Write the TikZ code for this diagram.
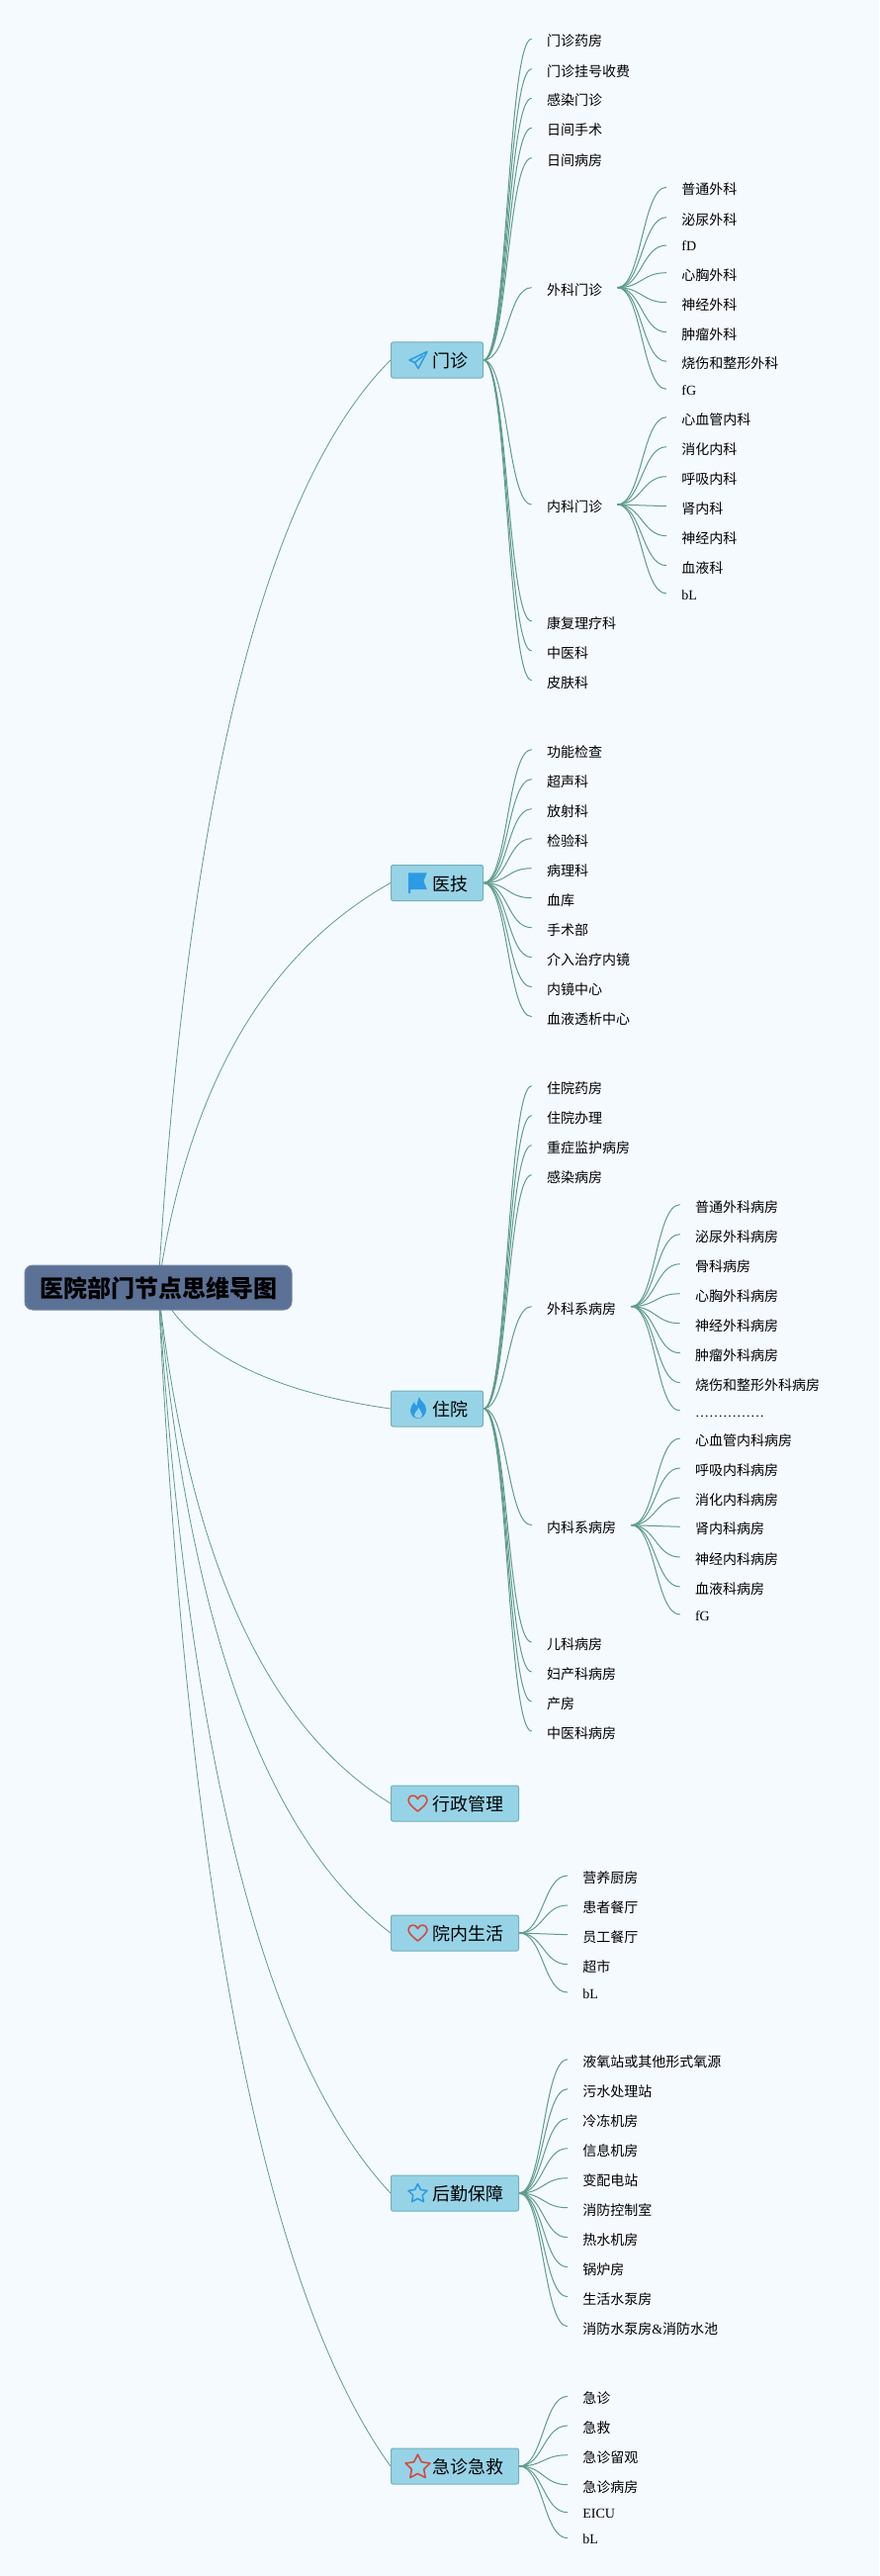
\documentclass[tikz,border=0pt]{standalone}
\usepackage{fontspec}
\setmainfont{Liberation Serif}
\newfontfamily\cjk{Noto Sans CJK SC}
\usetikzlibrary{backgrounds}
\definecolor{pagebg}{HTML}{F5FAFF}
\definecolor{boxfill}{HTML}{97D3E7}
\definecolor{boxline}{HTML}{72B0B6}
\definecolor{rootfill}{HTML}{5B7196}
\definecolor{linkline}{HTML}{5F9C8C}
\definecolor{iconblue}{HTML}{2C9BE3}
\definecolor{iconred}{HTML}{D5483C}
\tikzset{
  rootbox/.style={draw=rootfill!85!white,line width=0.75pt,fill=rootfill,rounded corners=6pt,minimum width=202.5pt,minimum height=33.75pt,inner sep=0pt,text height=15pt,text depth=0pt,font=\cjk\bfseries\fontsize{18}{20}\selectfont},
  branch/.style={draw=boxline,line width=0.75pt,fill=boxfill,rounded corners=1.5pt,anchor=west,minimum height=27pt,inner ysep=0pt,inner xsep=11.25pt,text height=11.5pt,text depth=0pt,font=\cjk\fontsize{13.5}{16}\selectfont,execute at begin node={\hspace{20.25pt}}},
  leaf/.style={anchor=west,inner ysep=0pt,inner xsep=11.3pt,text height=11pt,text depth=0pt,font=\cjk\fontsize{10.5}{12}\selectfont},
  latinleaf/.style={leaf,text height=9pt,font=\rmfamily\fontsize{10.5}{12}\selectfont},
  rootlink/.style={draw=linkline,line width=0.6pt},
  twig/.style={draw=linkline,line width=0.75pt,out=0,in=180,distance=18.4pt},
  iconline/.style={line width=1.15pt,line join=round},
  pics/planeicon/.style={code={
    \draw[iconblue,iconline] (9,-8.5) -- (-9,0) -- (-3.5,2.5) -- (0,8.5) -- cycle;
    \draw[iconblue,iconline] (-3.5,2.5) -- (5,-4.5);
  }},
  pics/flagicon/.style={code={
    \fill[iconblue] (-9.3,-9.7) -- (9.3,-9.7) -- (6,-1.4) -- (9.3,7) -- (-7.5,7) -- (-7.5,11) -- (-9.3,11) -- cycle;
  }},
  pics/flameicon/.style={code={
    \fill[iconblue] (1,-11) .. controls (2,-6) and (8,-5) .. (8,2) .. controls (8,7) and (4,11) .. (0,11) .. controls (-4.5,11) and (-8,7.5) .. (-8,2.5) .. controls (-8,-1) and (-5.5,-3) .. (-4,-6) .. controls (-3.5,-3.5) and (-3,-2.5) .. (-1.5,-2) .. controls (-0.5,-5) and (-1,-8) .. (1,-11) -- cycle;
    \fill[boxfill] (0.5,0) .. controls (1,3) and (4,4) .. (4,7) .. controls (4,9.5) and (2,10.5) .. (0,10.5) .. controls (-2,10.5) and (-4,9) .. (-4,7) .. controls (-4,5) and (-1.5,4) .. (0.5,0) -- cycle;
  }},
  pics/hearticon/.style={code={
    \draw[iconred,iconline] (0,8) .. controls (-6,3) and (-9.5,0) .. (-9.5,-3.5) .. controls (-9.5,-6.5) and (-7,-8) .. (-5,-8) .. controls (-3,-8) and (-1,-7) .. (0,-4.5) .. controls (1,-7) and (3,-8) .. (5,-8) .. controls (7,-8) and (9.5,-6.5) .. (9.5,-3.5) .. controls (9.5,0) and (6,3) .. (0,8) -- cycle;
  }},
  pics/staricon/.style 2 args={code={
    \draw[#1,iconline,scale=#2] (0,-1) -- (0.294,-0.405) -- (0.951,-0.309) -- (0.476,0.155) -- (0.588,0.809) -- (0,0.5) -- (-0.588,0.809) -- (-0.476,0.155) -- (-0.951,-0.309) -- (-0.294,-0.405) -- cycle;
  }},
}
\begin{document}
\begin{tikzpicture}[x=0.75pt,y=-0.75pt]
\path[use as bounding box] (0,0) rectangle (889,2604);

\node[rootbox] (root) at (160,1301.5) {医院部门节点思维导图};

\node[branch] (menzhen) at (395,364) {门诊};
\node[branch] (yiji) at (395,892.5) {医技};
\node[branch] (zhuyuan) at (395,1424) {住院};
\node[branch] (xingzheng) at (395,1823) {行政管理};
\node[branch] (shenghuo) at (395,1954) {院内生活};
\node[branch] (houqin) at (395,2217) {后勤保障};
\node[branch] (jizhen) at (395,2493) {急诊急救};

\pic at (423,364) {planeicon};
\pic at (422.5,892) {flagicon};
\pic at (423,1423) {flameicon};
\pic at (422.5,1823) {hearticon};
\pic at (422.5,1954) {hearticon};
\pic at (422.5,2217.5) {staricon={iconblue}{10}};
\pic at (422.5,2494) {staricon={iconred}{13}};

% outpatient
\node[leaf] (mz1) at (537.7,39.3) {门诊药房};
\node[leaf] (mz2) at (537.7,69.7) {门诊挂号收费};
\node[leaf] (mz3) at (537.7,99.3) {感染门诊};
\node[leaf] (mz4) at (537.7,129.3) {日间手术};
\node[leaf] (mz5) at (537.7,159.7) {日间病房};
\node[leaf] (mz6) at (537.7,290.7) {外科门诊};
\node[leaf] (mz7) at (537.7,510) {内科门诊};
\node[leaf] (mz8) at (537.7,628) {康复理疗科};
\node[leaf] (mz9) at (537.7,658) {中医科};
\node[leaf] (mz10) at (537.7,687.7) {皮肤科};

\node[leaf] (wk1) at (674,189.3) {普通外科};
\node[leaf] (wk2) at (674,219.7) {泌尿外科};
\node[latinleaf] (wk3) at (674,248) {fD};
\node[leaf] (wk4) at (674,275.7) {心胸外科};
\node[leaf] (wk5) at (674,305.7) {神经外科};
\node[leaf] (wk6) at (674,335.7) {肿瘤外科};
\node[leaf] (wk7) at (674,365.3) {烧伤和整形外科};
\node[latinleaf] (wk8) at (674,393.3) {fG};

\node[leaf] (nk1) at (674,421.7) {心血管内科};
\node[leaf] (nk2) at (674,451.7) {消化内科};
\node[leaf] (nk3) at (674,481.7) {呼吸内科};
\node[leaf] (nk4) at (674,511.7) {肾内科};
\node[leaf] (nk5) at (674,541.7) {神经内科};
\node[leaf] (nk6) at (674,571.7) {血液科};
\node[latinleaf] (nk7) at (674,600) {bL};

% technical
\node[leaf] (yj1) at (537.7,757.7) {功能检查};
\node[leaf] (yj2) at (537.7,787.7) {超声科};
\node[leaf] (yj3) at (537.7,817.7) {放射科};
\node[leaf] (yj4) at (537.7,847.7) {检验科};
\node[leaf] (yj5) at (537.7,877.7) {病理科};
\node[leaf] (yj6) at (537.7,907.7) {血库};
\node[leaf] (yj7) at (537.7,937.7) {手术部};
\node[leaf] (yj8) at (537.7,967.7) {介入治疗内镜};
\node[leaf] (yj9) at (537.7,997.7) {内镜中心};
\node[leaf] (yj10) at (537.7,1027.7) {血液透析中心};

% inpatient
\node[leaf] (zy1) at (537.7,1097.7) {住院药房};
\node[leaf] (zy2) at (537.7,1127.7) {住院办理};
\node[leaf] (zy3) at (537.7,1157.7) {重症监护病房};
\node[leaf] (zy4) at (537.7,1187.7) {感染病房};
\node[leaf] (zy5) at (537.7,1320.7) {外科系病房};
\node[leaf] (zy6) at (537.7,1541.7) {内科系病房};
\node[leaf] (zy7) at (537.7,1660) {儿科病房};
\node[leaf] (zy8) at (537.7,1690) {妇产科病房};
\node[leaf] (zy9) at (537.7,1720) {产房};
\node[leaf] (zy10) at (537.7,1750) {中医科病房};

\node[leaf] (zw1) at (687.7,1217.7) {普通外科病房};
\node[leaf] (zw2) at (687.7,1247.7) {泌尿外科病房};
\node[leaf] (zw3) at (687.7,1277.7) {骨科病房};
\node[leaf] (zw4) at (687.7,1307.7) {心胸外科病房};
\node[leaf] (zw5) at (687.7,1337.7) {神经外科病房};
\node[leaf] (zw6) at (687.7,1367.7) {肿瘤外科病房};
\node[leaf] (zw7) at (687.7,1397.7) {烧伤和整形外科病房};
\node[latinleaf] (zw8) at (687.7,1426) {……………};

\node[leaf] (zn1) at (687.7,1454) {心血管内科病房};
\node[leaf] (zn2) at (687.7,1484) {呼吸内科病房};
\node[leaf] (zn3) at (687.7,1514) {消化内科病房};
\node[leaf] (zn4) at (687.7,1543.3) {肾内科病房};
\node[leaf] (zn5) at (687.7,1574) {神经内科病房};
\node[leaf] (zn6) at (687.7,1604) {血液科病房};
\node[latinleaf] (zn7) at (687.7,1632) {fG};

% daily life
\node[leaf] (sh1) at (574,1896) {营养厨房};
\node[leaf] (sh2) at (574,1926) {患者餐厅};
\node[leaf] (sh3) at (574,1955.7) {员工餐厅};
\node[leaf] (sh4) at (574,1985.7) {超市};
\node[latinleaf] (sh5) at (574,2014) {bL};

% logistics
\node[leaf] (hq1) at (574,2081.7) {液氧站或其他形式氧源};
\node[leaf] (hq2) at (574,2111.7) {污水处理站};
\node[leaf] (hq3) at (574,2141.7) {冷冻机房};
\node[leaf] (hq4) at (574,2171.7) {信息机房};
\node[leaf] (hq5) at (574,2201.7) {变配电站};
\node[leaf] (hq6) at (574,2231.7) {消防控制室};
\node[leaf] (hq7) at (574,2261.7) {热水机房};
\node[leaf] (hq8) at (574,2291.7) {锅炉房};
\node[leaf] (hq9) at (574,2321.7) {生活水泵房};
\node[leaf] (hq10) at (574,2351.7) {消防水泵房{\rmfamily\fontsize{10.5}{12}\selectfont\&}消防水池};

% emergency
\node[leaf] (jz1) at (574,2422.3) {急诊};
\node[leaf] (jz2) at (574,2452) {急救};
\node[leaf] (jz3) at (574,2481.7) {急诊留观};
\node[leaf] (jz4) at (574,2511.7) {急诊病房};
\node[latinleaf] (jz5) at (574,2539.7) {EICU};
\node[latinleaf] (jz6) at (574,2565.7) {bL};

\begin{scope}[on background layer]
\fill[pagebg] (0,0) rectangle (889,2604);

\draw[rootlink] (root.center) .. controls (190,803) and (268,491) .. (menzhen.west);
\draw[rootlink] (root.center) .. controls (190,1099) and (268,964) .. (yiji.west);
\draw[rootlink] (root.center) .. controls (190,1364) and (268,1406) .. (zhuyuan.west);
\draw[rootlink] (root.center) .. controls (190,1572) and (268,1745) .. (xingzheng.west);
\draw[rootlink] (root.center) .. controls (190,1640) and (268,1857) .. (shenghuo.west);
\draw[rootlink] (root.center) .. controls (190,1777) and (268,2081) .. (houqin.west);
\draw[rootlink] (root.center) .. controls (190,1920) and (268,2317) .. (jizhen.west);

\foreach \n in {1,...,10} \draw[twig] (menzhen.east) to (mz\n.west);
\foreach \n in {1,...,8} \draw[twig] (mz6.east) to (wk\n.west);
\foreach \n in {1,...,7} \draw[twig] (mz7.east) to (nk\n.west);
\foreach \n in {1,...,10} \draw[twig] (yiji.east) to (yj\n.west);
\foreach \n in {1,...,10} \draw[twig] (zhuyuan.east) to (zy\n.west);
\foreach \n in {1,...,8} \draw[twig] (zy5.east) to (zw\n.west);
\foreach \n in {1,...,7} \draw[twig] (zy6.east) to (zn\n.west);
\foreach \n in {1,...,5} \draw[twig] (shenghuo.east) to (sh\n.west);
\foreach \n in {1,...,10} \draw[twig] (houqin.east) to (hq\n.west);
\foreach \n in {1,...,6} \draw[twig] (jizhen.east) to (jz\n.west);
\end{scope}
\end{tikzpicture}
\end{document}
